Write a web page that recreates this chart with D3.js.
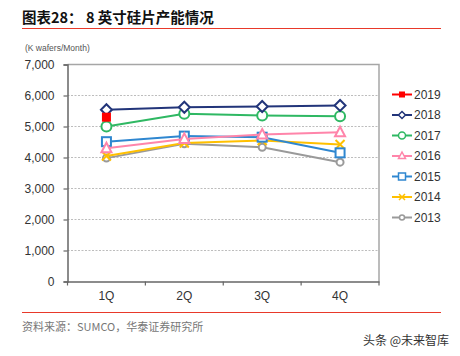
<!DOCTYPE html>
<html><head><meta charset="utf-8">
<script src="https://cdn.jsdelivr.net/npm/d3@7"></script>
<style>body{margin:0;background:#fff;}svg{display:block;font-family:"Liberation Sans",Arial,sans-serif;}</style>
</head><body><svg id="c" width="460" height="356"></svg>
<script>
const quarters = ["1Q","2Q","3Q","4Q"];
const yTicks = [0,1000,2000,3000,4000,5000,6000,7000];
const years = ["2019","2018","2017","2016","2015","2014","2013"];
const v2019 = [5300];
const v2018 = [5540,5620,5645,5680];
const v2017 = [5000,5410,5355,5330];
const v2016 = [4300,4600,4740,4815];
const v2015 = [4510,4690,4655,4150];
const v2014 = [4050,4470,4550,4420];
const v2013 = [3980,4440,4330,3850];
const colors = ["#ff0000","#22357a","#2fb863","#ff85aa","#2f87d0","#ffc000","#9a9a9a"];
const symbols = ["filledSquare","diamond","circle","triangle","square","cross","smallCircle"];
const seriesValues = [v2019,v2018,v2017,v2016,v2015,v2014,v2013];

const svg = d3.select("#c");
const L=67.5, R=379, T=64.5, B=281.5;
const x = d3.scaleBand().domain(quarters).range([L,R]);
const y = d3.scaleLinear().domain([0,7000]).range([B,T]);

// title
svg.append("text").attr("x",22).attr("y",23).attr("font-size",14.5).attr("font-weight","bold")
  .attr("fill","#111").attr("font-family","'Noto Sans CJK SC',sans-serif").text("图表28：  8 英寸硅片产能情况");
svg.append("line").attr("x1",22).attr("x2",441).attr("y1",28.5).attr("y2",28.5).attr("stroke","#e8392a").attr("stroke-width",1.2);
svg.append("text").attr("x",25).attr("y",51).attr("font-size",8.5).attr("fill","#555").text("(K wafers/Month)");

// grid
svg.append("g").selectAll("line").data(yTicks.filter(d=>d>0&&d<7000)).join("line")
  .attr("x1",L).attr("x2",R).attr("y1",d=>y(d)).attr("y2",d=>y(d))
  .attr("stroke","#bdbdbd").attr("stroke-dasharray","2,1.5").attr("stroke-width",1);
// border top/right
svg.append("path").attr("d",`M${L},${y(7000)}H${R}V${B}`).attr("fill","none").attr("stroke","#a6a6a6").attr("stroke-width",1.5);

// y axis
const ya = svg.append("g").attr("transform",`translate(${L},0)`)
  .call(d3.axisLeft(y).tickValues(yTicks).tickFormat(d3.format(",")).tickSize(4).tickPadding(9));
ya.select(".domain").attr("stroke","#666").attr("stroke-width",1.5);
ya.selectAll(".tick line").attr("stroke","#666").attr("stroke-width",1.2);
ya.selectAll("text").attr("font-size",12).attr("fill","#333");

// x axis
const xa = svg.append("g").attr("transform",`translate(0,${B})`)
  .call(d3.axisBottom(x).tickSize(0).tickPadding(10));
xa.select(".domain").attr("stroke","#666").attr("stroke-width",1.5);
xa.selectAll("text").attr("font-size",12).attr("fill","#333");
const bounds = quarters.map(q=>x(q)).concat([R]);
svg.append("g").selectAll("line").data(bounds).join("line")
  .attr("x1",d=>d).attr("x2",d=>d).attr("y1",B).attr("y2",B+4).attr("stroke","#666").attr("stroke-width",1.2);

function drawMarker(g, type, color, cx, cy){
  if(type==="filledSquare"){
    g.append("rect").attr("x",cx-4.5).attr("y",cy-4.5).attr("width",9).attr("height",9).attr("fill",color);
  } else if(type==="diamond"){
    g.append("path").attr("d",`M${cx},${cy-5.5}L${cx+5.5},${cy}L${cx},${cy+5.5}L${cx-5.5},${cy}Z`).attr("fill","#fff").attr("stroke",color).attr("stroke-width",2);
  } else if(type==="circle"){
    g.append("circle").attr("cx",cx).attr("cy",cy).attr("r",5).attr("fill","#fff").attr("stroke",color).attr("stroke-width",2);
  } else if(type==="triangle"){
    g.append("path").attr("d",`M${cx},${cy-5.5}L${cx+5},${cy+4}L${cx-5},${cy+4}Z`).attr("fill","#fff").attr("stroke",color).attr("stroke-width",2);
  } else if(type==="square"){
    g.append("rect").attr("x",cx-4.5).attr("y",cy-4.5).attr("width",9).attr("height",9).attr("fill","#fff").attr("stroke",color).attr("stroke-width",2);
  } else if(type==="cross"){
    g.append("path").attr("d",`M${cx-4.5},${cy-4.5}L${cx+4.5},${cy+4.5}M${cx-4.5},${cy+4.5}L${cx+4.5},${cy-4.5}`).attr("stroke",color).attr("stroke-width",2);
  } else {
    g.append("circle").attr("cx",cx).attr("cy",cy).attr("r",3.5).attr("fill","#fff").attr("stroke",color).attr("stroke-width",2);
  }
}

const line = d3.line().x((d,i)=>x(quarters[i])+x.bandwidth()/2).y(d=>y(d));
// draw from oldest to newest so newer on top
for(let s=seriesValues.length-1;s>=0;s--){
  const g = svg.append("g");
  const vals = seriesValues[s];
  if(vals.length>1) g.append("path").attr("d",line(vals)).attr("fill","none").attr("stroke",colors[s]).attr("stroke-width",2);
  vals.forEach((v,i)=>drawMarker(g,symbols[s],colors[s],x(quarters[i])+x.bandwidth()/2,y(v)));
}

// legend
years.forEach((yr,i)=>{
  const cy = 94.5 + i*20.5;
  const g = svg.append("g");
  g.append("line").attr("x1",392).attr("x2",412).attr("y1",cy).attr("y2",cy).attr("stroke",colors[i]).attr("stroke-width",2);
  const sym = symbols[i];
  if(sym==="filledSquare") g.append("rect").attr("x",399).attr("y",cy-3).attr("width",6).attr("height",6).attr("fill",colors[i]);
  else if(sym==="diamond") g.append("path").attr("d",`M402,${cy-3.5}L405.5,${cy}L402,${cy+3.5}L398.5,${cy}Z`).attr("fill","#fff").attr("stroke",colors[i]).attr("stroke-width",1.5);
  else if(sym==="circle") g.append("circle").attr("cx",402).attr("cy",cy).attr("r",3.5).attr("fill","#fff").attr("stroke",colors[i]).attr("stroke-width",1.5);
  else if(sym==="triangle") g.append("path").attr("d",`M402,${cy-4}L405.5,${cy+2.5}L398.5,${cy+2.5}Z`).attr("fill","#fff").attr("stroke",colors[i]).attr("stroke-width",1.5);
  else if(sym==="square") g.append("rect").attr("x",398.5).attr("y",cy-3.5).attr("width",7).attr("height",7).attr("fill","#fff").attr("stroke",colors[i]).attr("stroke-width",1.5);
  else if(sym==="cross") g.append("path").attr("d",`M399,${cy-3}L405,${cy+3}M399,${cy+3}L405,${cy-3}`).attr("stroke",colors[i]).attr("stroke-width",1.5);
  else g.append("circle").attr("cx",402).attr("cy",cy).attr("r",2.5).attr("fill","#fff").attr("stroke",colors[i]).attr("stroke-width",1.5);
  g.append("text").attr("x",414).attr("y",cy+4).attr("font-size",12).attr("fill","#333").text(yr);
});

// footer
svg.append("line").attr("x1",22).attr("x2",441).attr("y1",312.5).attr("y2",312.5).attr("stroke","#e8392a").attr("stroke-width",1);
svg.append("text").attr("x",22).attr("y",331).attr("font-size",11).attr("fill","#777")
  .attr("font-family","'Noto Sans CJK SC',sans-serif").text("资料来源：SUMCO，华泰证券研究所");
svg.append("text").attr("x",449).attr("y",345).attr("text-anchor","end").attr("font-size",12).attr("fill","#333")
  .attr("font-family","'Noto Sans CJK SC',sans-serif").text("头条 @未来智库");
</script></body></html>
